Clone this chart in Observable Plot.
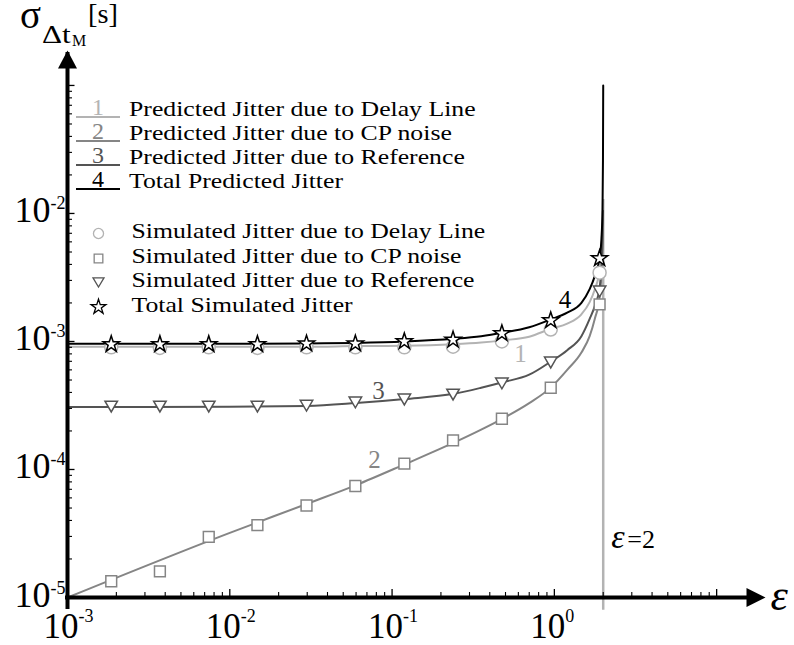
<!DOCTYPE html>
<html><head><meta charset="utf-8">
<script src="https://cdn.jsdelivr.net/npm/d3@7"></script>
<script src="https://cdn.jsdelivr.net/npm/@observablehq/plot@0.6"></script>
<style>html,body{margin:0;padding:0;background:#fff;} #chart svg{display:block}</style>
</head><body><div id="chart"></div>
<script>
// ---------- data ----------
const simEps    = [0.00186, 0.00371, 0.00742, 0.0148, 0.0297, 0.0594, 0.119, 0.2375, 0.475, 0.95, 1.9];
const simDelay  = [9.0e-4, 8.9e-4, 9.0e-4, 8.9e-4, 9.0e-4, 9.0e-4, 9.0e-4, 9.1e-4, 1.0e-3, 1.24e-3, 3.45e-3];
const simCP     = [1.34e-5, 1.6e-5, 2.98e-5, 3.67e-5, 5.23e-5, 7.43e-5, 1.11e-4, 1.69e-4, 2.49e-4, 4.35e-4, 1.95e-3];
const simRef    = [3.1e-4, 3.1e-4, 3.1e-4, 3.1e-4, 3.15e-4, 3.34e-4, 3.52e-4, 3.85e-4, 4.7e-4, 6.85e-4, 2.46e-3];
const simTotal  = [9.5e-4, 9.5e-4, 9.5e-4, 9.5e-4, 9.6e-4, 9.6e-4, 1.0e-3, 1.03e-3, 1.155e-3, 1.46e-3, 4.45e-3];

const predEps   = [0.001, 0.01, 0.03, 0.06, 0.12, 0.24, 0.354, 0.48, 0.7, 0.957, 1.2, 1.468, 1.65, 1.774, 1.905, 1.95, 1.98, 1.993, 2.0];
const predDelay = [9.1e-4, 9.1e-4, 9.1e-4, 9.2e-4, 9.25e-4, 9.5e-4, 9.8e-4, 1.02e-3, 1.09e-3, 1.26e-3, 1.38e-3, 1.63e-3, 2.03e-3, 2.55e-3, 3.65e-3, 4.8e-3, 7.5e-3, 1.25e-2, null];
const predCP    = [1.0e-5, 3.2e-5, 5.4e-5, 7.55e-5, 1.1e-4, 1.62e-4, 2.05e-4, 2.5e-4, 3.3e-4, 4.4e-4, 6.0e-4, 8.2e-4, 1.1e-3, 1.5e-3, 2.26e-3, 3.3e-3, 5.5e-3, 9.0e-3, null];
const predRef   = [3.08e-4, 3.09e-4, 3.13e-4, 3.3e-4, 3.55e-4, 3.9e-4, 4.35e-4, 4.8e-4, 5.5e-4, 7.0e-4, 8.55e-4, 1.1e-3, 1.5e-3, 1.89e-3, 2.7e-3, 3.8e-3, 6.3e-3, 1.05e-2, null];
const predTotal = [9.6e-4, 9.6e-4, 9.65e-4, 9.75e-4, 1.0e-3, 1.05e-3, 1.1e-3, 1.17e-3, 1.29e-3, 1.49e-3, 1.68e-3, 2.0e-3, 2.56e-3, 3.24e-3, 4.64e-3, 6.3e-3, 1.07e-2, 2.6e-2, 1.0e-1];

const xLabelVals = [1e-3, 1e-2, 1e-1, 1];
const xLabelExp  = ["-3", "-2", "-1", "0"];
const yLabelVals = [1e-5, 1e-4, 1e-3, 1e-2];
const yLabelExp  = ["-5", "-4", "-3", "-2"];
const xMajor = [1e-3, 1e-2, 1e-1, 1, 10];
const yMajor = [1e-5, 1e-4, 1e-3, 1e-2, 1e-1];
const epsCrit = 2;

const legendPred = ["Predicted Jitter due to Delay Line", "Predicted Jitter due to CP noise", "Predicted Jitter due to Reference", "Total Predicted Jitter"];
const legendSim  = ["Simulated Jitter due to Delay Line", "Simulated Jitter due to CP noise", "Simulated Jitter due to Reference", "Total Simulated Jitter"];
const curveNames = ["1", "2", "3", "4"];
// curve label anchors (eps, sigma)
const curveLabelEps = [0.618, 0.078, 0.0824, 1.163];
const curveLabelVal = [8.05e-4, 1.18e-4, 4.1e-4, 2.09e-3];

// ---------- layout / style ----------
const FONT = '"Liberation Serif", "Times New Roman", Times, serif';
const COLORS = ["#b3b3b3", "#858585", "#545454", "#000000"];
const W = 794, H = 645, ML = 67, MR = 29, MT = 50, MB = 48;
const PW = W - ML - MR, PH = H - MT - MB;
const xMax = 20, yTop = 0.1875;
const STRETCH = 1.17; // the reference's serif text is drawn wider than its height

const xMinor = [], yMinor = [];
for (const d of [1e-3, 1e-2, 1e-1, 1]) for (let k = 2; k <= 9; k++) xMinor.push(d * k);
for (const d of [1e-5, 1e-4, 1e-3, 1e-2]) for (let k = 2; k <= 9; k++) yMinor.push(d * k);

const predRows = (vals) => predEps.map((e, i) => ({eps: e, v: vals[i]})).filter(d => d.v != null);
const simRows = (vals) => simEps.map((e, i) => ({eps: e, v: vals[i]}));

const triDown = {draw(ctx) { const w = 12.5, h = 10.8; ctx.moveTo(-w/2, -h/2); ctx.lineTo(w/2, -h/2); ctx.lineTo(0, h/2); ctx.closePath(); }};
const arrowUp = {draw(ctx) { const L = 18, w = 19; ctx.moveTo(0, 0); ctx.lineTo(w/2, L); ctx.lineTo(-w/2, L); ctx.closePath(); }};
const arrowRight = {draw(ctx) { const L = 19, w = 19; ctx.moveTo(0, 0); ctx.lineTo(-L, w/2); ctx.lineTo(-L, -w/2); ctx.closePath(); }};

function stretchedText(g, x, y, size, str, sx = STRETCH) {
  return g.append("text").attr("transform", `translate(${x},${y}) scale(${sx},1)`)
    .attr("font-size", size).attr("fill", "#000").text(str);
}

function legendMark() {
  const g = d3.create("svg:g").attr("font-family", FONT).attr("text-anchor", "start");
  const ys = [117, 141, 165, 189];
  legendPred.forEach((t, i) => {
    g.append("line").attr("x1", 76).attr("x2", 120).attr("y1", ys[i]).attr("y2", ys[i])
      .attr("stroke", COLORS[i]).attr("stroke-width", 2);
    g.append("text").attr("x", 98).attr("y", ys[i] - 2).attr("text-anchor", "middle")
      .attr("font-size", 24).attr("fill", COLORS[i]).text(curveNames[i]);
    stretchedText(g, 129, ys[i] - 1.5, 22, t);
  });
  const ys2 = [233.5, 258.5, 282.5, 307];
  const syms = [d3.symbol(d3.symbolCircle, 80), d3.symbol(d3.symbolSquare, 75), null, d3.symbol(d3.symbolStar, 68)];
  legendSim.forEach((t, i) => {
    const d = i === 2 ? "M-5.5,-4.6L5.5,-4.6L0,4.6Z" : syms[i]();
    g.append("path").attr("d", d).attr("transform", `translate(98.5,${ys2[i]})`)
      .attr("fill", "white").attr("stroke", COLORS[i]).attr("stroke-width", 1.3);
    stretchedText(g, 131.5, ys2[i] + 4.8, 22, t);
  });
  // y title
  g.append("text").attr("x", 20).attr("y", 28).attr("font-size", 39).attr("fill", "#000").text("σ");
  stretchedText(g, 42, 43, 26, "Δt", 1.2);
  g.append("text").attr("x", 72).attr("y", 45.5).attr("font-size", 16).attr("fill", "#000").text("M");
  stretchedText(g, 88, 23, 27, "[s]", 1.05);
  return g.node();
}

const T = {fontFamily: FONT, fill: "black"};
const chart = Plot.plot({
  width: W, height: H,
  marginLeft: ML, marginRight: MR, marginTop: MT, marginBottom: MB,
  style: {background: "white", fontFamily: FONT, overflow: "visible"},
  x: {type: "log", domain: [1e-3, xMax], axis: null},
  y: {type: "log", domain: [1e-5, yTop], axis: null},
  marks: [
    Plot.ruleX([epsCrit], {x: d => d, y1: 10 ** -5.1, y2: 10 ** -1.89, stroke: COLORS[0], strokeWidth: 2.5}),
    Plot.line(predRows(predDelay), {x: "eps", y: "v", stroke: COLORS[0], strokeWidth: 2, curve: "monotone-x"}),
    Plot.line(predRows(predCP), {x: "eps", y: "v", stroke: COLORS[1], strokeWidth: 2, curve: "monotone-x"}),
    Plot.line(predRows(predRef), {x: "eps", y: "v", stroke: COLORS[2], strokeWidth: 2, curve: "monotone-x"}),
    Plot.line(predRows(predTotal), {x: "eps", y: "v", stroke: COLORS[3], strokeWidth: 2, curve: "monotone-x"}),
    Plot.dot(simRows(simDelay), {x: "eps", y: "v", r: 6.5, symbol: "circle", fill: "white", stroke: COLORS[0], strokeWidth: 1.5}),
    Plot.dot(simRows(simCP), {x: "eps", y: "v", r: 6.1, symbol: "square", fill: "white", stroke: COLORS[1], strokeWidth: 1.5}),
    Plot.dot(simRows(simRef), {x: "eps", y: "v", symbol: triDown, fill: "white", stroke: COLORS[2], strokeWidth: 1.5}),
    Plot.dot(simRows(simTotal), {x: "eps", y: "v", r: 5.1, symbol: "star", fill: "white", stroke: COLORS[3], strokeWidth: 1.5}),
    // curve numbers
    Plot.text(curveNames, {x: (d, i) => curveLabelEps[i], y: (d, i) => curveLabelVal[i], text: d => d,
      fill: (d, i) => COLORS[i], fontFamily: FONT, fontSize: 25, lineAnchor: "middle", textAnchor: "middle"}),
    // axes
    Plot.ruleX([1e-3], {x: d => d, y1: 1e-5, y2: yTop, insetTop: 12, insetBottom: -2, stroke: "black", strokeWidth: 4}),
    Plot.ruleY([1e-5], {y: d => d, x1: 1e-3, x2: xMax, insetRight: 12, insetLeft: -2, stroke: "black", strokeWidth: 4}),
    Plot.ruleY(yMajor, {y: d => d, insetRight: PW - 7.5, stroke: "black", strokeWidth: 1.3}),
    Plot.ruleY(yMinor, {y: d => d, insetRight: PW - 5, stroke: "black", strokeWidth: 1.1}),
    Plot.ruleX(xMajor, {x: d => d, insetTop: PH - 8, stroke: "black", strokeWidth: 1.3}),
    Plot.ruleX(xMinor, {x: d => d, insetTop: PH - 5, stroke: "black", strokeWidth: 1.1}),
    Plot.dot([0], {x: () => 1e-3, y: () => yTop, symbol: arrowUp, fill: "black", stroke: null}),
    Plot.dot([0], {x: () => xMax, y: () => 1e-5, symbol: arrowRight, fill: "black", stroke: null}),
    // tick labels
    Plot.text(yLabelVals, {...T, y: d => d, frameAnchor: "left", text: () => "10", textAnchor: "end", lineAnchor: "bottom", dx: -17, dy: 9, fontSize: 36}),
    Plot.text(yLabelVals, {...T, y: d => d, frameAnchor: "left", text: (d, i) => yLabelExp[i], textAnchor: "start", lineAnchor: "bottom", dx: -17, dy: -4, fontSize: 18}),
    Plot.text(xLabelVals, {...T, x: d => d, frameAnchor: "bottom", text: () => "10", textAnchor: "end", lineAnchor: "bottom", dx: 11, dy: 40, fontSize: 35}),
    Plot.text(xLabelVals, {...T, x: d => d, frameAnchor: "bottom", text: (d, i) => xLabelExp[i], textAnchor: "start", lineAnchor: "bottom", dx: 11, dy: 24, fontSize: 18}),
    // axis label epsilon
    Plot.text(["ε"], {...T, x: () => xMax, y: () => 1e-5, text: d => d, textAnchor: "start", lineAnchor: "bottom", dx: 5, dy: 12, fontSize: 44, fontStyle: "italic"}),
    // eps = 2 annotation
    Plot.text(["ε"], {...T, x: () => epsCrit, frameAnchor: "bottom", text: d => d, textAnchor: "start", lineAnchor: "bottom", dx: 8, dy: -50, fontSize: 34, fontStyle: "italic"}),
    Plot.text(["=2"], {...T, x: () => epsCrit, frameAnchor: "bottom", text: d => d, textAnchor: "start", lineAnchor: "bottom", dx: 24, dy: -50, fontSize: 26}),
    legendMark
  ]
});
document.getElementById("chart").append(chart);
</script>
</body></html>
